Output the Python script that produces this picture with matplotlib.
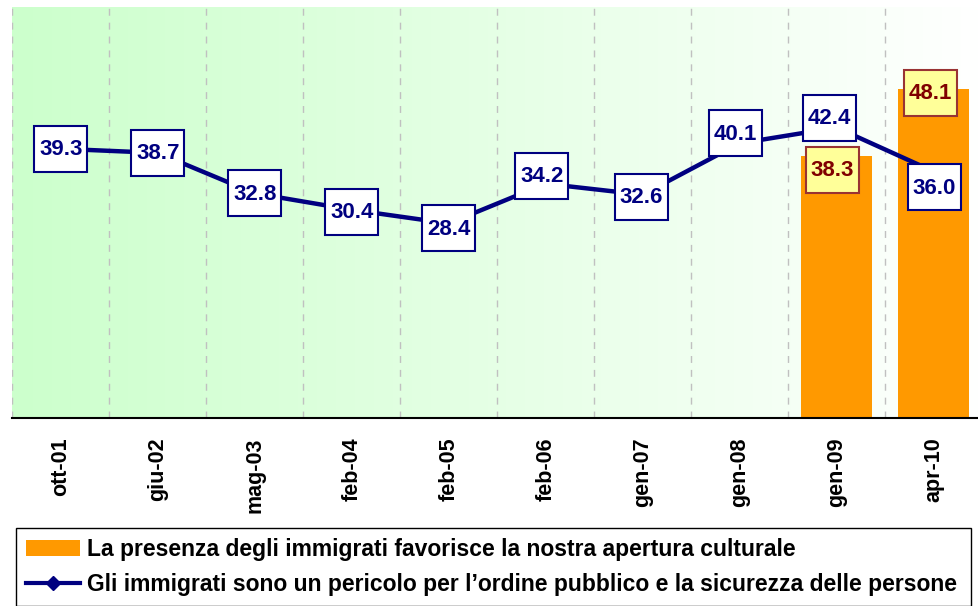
import matplotlib
matplotlib.use("Agg")
import matplotlib.pyplot as plt
import matplotlib.transforms as mtransforms
from matplotlib.lines import Line2D
from matplotlib.patches import Patch, Rectangle
import numpy as np

plt.rcParams["font.family"] = ["Liberation Sans", "DejaVu Sans"]
plt.rcParams["font.weight"] = "bold"

# data
periods = ["ott-01", "giu-02", "mag-03", "feb-04", "feb-05",
           "feb-06", "gen-07", "gen-08", "gen-09", "apr-10"]
danger_values = [39.3, 38.7, 32.8, 30.4, 28.4, 34.2, 32.6, 40.1, 42.4, 36.0]
openness_periods = ["gen-09", "apr-10"]
openness_values = [38.3, 48.1]

openness_label = "La presenza degli immigrati favorisce la nostra apertura culturale"
danger_label = ("Gli immigrati sono un pericolo per l\u2019ordine pubblico "
                "e la sicurezza delle persone")

# label box nudges in pixels (x, y), as placed in the source chart
danger_nudges = [(0, 0), (0, 0), (0, 0), (0, -2), (0, -5),
                 (-4, 8), (-1, -2), (-4, 10), (-7, 10), (1, -16)]
openness_nudges = [(-4, -14), (-3, -4)]

NAVY = "#000080"
ORANGE = "#FF9900"

W, H = 979, 606
figure = plt.figure(figsize=(W / 100, H / 100), dpi=100)
axis = figure.add_axes([12.3 / W, 1 - 418 / H, (982 - 12.3) / W, (418 - 7) / H])

x = np.arange(len(periods))
axis.set_xlim(-0.5, len(periods) - 0.5)
axis.set_ylim(0, 60)

# green-to-white background
gradient = np.ones((1, 256, 3))
fade = np.linspace(0, 1, 256)
gradient[0, :, 0] = 0.8 + 0.2 * fade
gradient[0, :, 2] = 0.8 + 0.2 * fade
axis.imshow(gradient, extent=(-0.5, len(periods) - 0.5, 0, 60),
            aspect="auto", zorder=0, interpolation="bilinear")

for boundary in np.arange(-0.5, len(periods), 1.0):
    axis.axvline(boundary, color="#C0C0C0", linewidth=1.0,
                 linestyle=(0, (5, 5)), zorder=1)

bar_x = [periods.index(p) for p in openness_periods]
axis.bar(bar_x, openness_values, width=0.73, color=ORANGE, zorder=2)

axis.plot(x, danger_values, color=NAVY, linewidth=3.2, marker="D",
          markersize=6, zorder=3)


def boxed_label(xd, yd, text, nudge, face, edge, color):
    """Draw a fixed-size boxed value label centred on a data point."""
    offset = mtransforms.ScaledTranslation(xd, yd, axis.transData)
    dx, dy = nudge[0] / 100, nudge[1] / 100
    trans = figure.dpi_scale_trans + offset
    axis.add_patch(Rectangle((dx - 0.265, dy - 0.23), 0.53, 0.46,
                             facecolor=face, edgecolor=edge, linewidth=1.5,
                             transform=trans, zorder=4, clip_on=False))
    axis.text(dx, dy - 0.01, text, transform=trans, ha="center", va="center",
              fontsize=16, fontweight="bold", color=color, zorder=5)


for xi, value, nudge in zip(x, danger_values, danger_nudges):
    boxed_label(xi, value, f"{value:.1f}", nudge, "white", NAVY, NAVY)

for xi, value, nudge in zip(bar_x, openness_values, openness_nudges):
    boxed_label(xi, value, f"{value:.1f}", nudge, "#FFFF99", "#993333", "#800000")

axis.set_xticks(x, labels=periods, rotation=90, fontsize=15.5, fontweight="bold")
axis.tick_params(axis="x", length=0, pad=14)
axis.set_yticks([])
for side in ["left", "right", "top"]:
    axis.spines[side].set_visible(False)
axis.spines["bottom"].set_linewidth(1.5)
axis.spines["bottom"].set_zorder(6)

handles = [
    Patch(facecolor=ORANGE, edgecolor="none"),
    Line2D([], [], color=NAVY, linewidth=3, marker="D", markersize=7),
]
legend_top = 1 - 528 / H
legend = figure.legend(
    handles, [openness_label, danger_label],
    loc="upper left",
    bbox_to_anchor=(16 / W, legend_top - 0.2, (971 - 16) / W, 0.2),
    mode="expand", prop={"weight": "bold", "size": 16.5},
    frameon=True, fancybox=False, edgecolor="black", framealpha=1,
    handlelength=2.35, handletextpad=0.3, labelspacing=0.5,
    borderpad=0.45, borderaxespad=0,
)
legend.get_frame().set_linewidth(1.0)

figure.savefig("out.png", dpi=100)
plt.close(figure)
